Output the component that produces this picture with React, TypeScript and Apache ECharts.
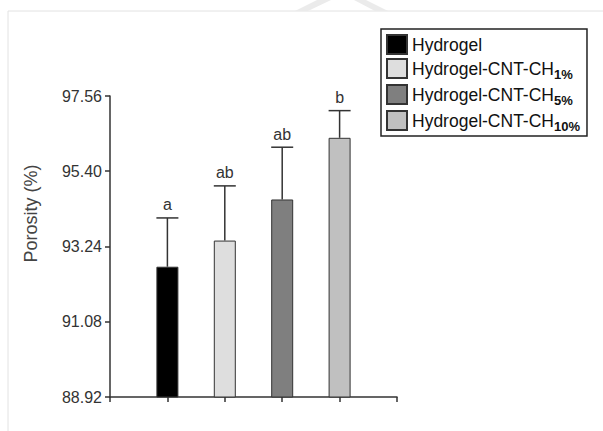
import React, { useEffect, useRef } from 'react';
import * as echarts from 'echarts';

const groupNames = ['Hydrogel', 'Hydrogel-CNT-CH', 'Hydrogel-CNT-CH', 'Hydrogel-CNT-CH'];
const subscripts = ['', '1%', '5%', '10%'];
const porosity = [92.66, 93.41, 94.59, 96.36];
const errorUpper = [1.4, 1.57, 1.5, 0.78];
const letters = ['a', 'ab', 'ab', 'b'];
const barColors = ['#000000', '#dedede', '#7f7f7f', '#c0c0c0'];
const yTicks = [88.92, 91.08, 93.24, 95.4, 97.56];
const xSlots = ['', '', '', '', '', ''];

const FONT = '"Liberation Sans", Arial, sans-serif';

export default function App() {
  const ref = useRef<HTMLDivElement>(null);
  useEffect(() => {
    if (!ref.current) return;
    const chart = echarts.init(ref.current, undefined, { renderer: 'svg' });
    const seriesNames = groupNames.map((g, i) => g + subscripts[i]);
    const barSeries = porosity.map((v, i) => ({
      type: 'bar',
      name: seriesNames[i],
      barWidth: 22,
      barGap: '-100%',
      clip: true,
      data: xSlots.map((_, k) => (k === i + 1 ? v : '-')),
      itemStyle: { color: barColors[i], borderColor: '#333', borderWidth: 1 },
    }));
    const option: any = {
      animation: false,
      backgroundColor: '#fff',
      textStyle: { fontFamily: FONT },
      graphic: [
        {
          type: 'rect',
          shape: { x: 8, y: 11, width: 800, height: 600 },
          style: { fill: 'none', stroke: '#e2e2e2', lineWidth: 1 },
          silent: true,
        },
        {
          type: 'polygon',
          shape: { points: [[295, 11], [308, 11], [331, 0], [317, 0]] },
          style: { fill: '#ebebeb' },
          silent: true,
        },
        {
          type: 'polygon',
          shape: { points: [[354, 0], [366, 0], [388, 11], [375, 11]] },
          style: { fill: '#ebebeb' },
          silent: true,
        },
      ],
      grid: { left: 110, right: 206, top: 96, bottom: 34 },
      legend: {
        orient: 'vertical',
        left: 381,
        top: 29,
        icon: 'rect',
        itemWidth: 20,
        itemHeight: 19,
        itemGap: 3,
        padding: [5, 7, 3, 5],
        borderColor: '#222',
        borderWidth: 1.5,
        backgroundColor: '#fff',
        data: seriesNames,
        formatter: (name: string) => {
          const i = seriesNames.indexOf(name);
          return subscripts[i] ? groupNames[i] + '{sub|' + subscripts[i] + '}' : groupNames[i];
        },
        textStyle: {
          fontSize: 17.5,
          fontFamily: FONT,
          color: '#111',
          lineHeight: 19,
          rich: {
            sub: {
              fontSize: 13,
              fontWeight: 'bold',
              fontFamily: FONT,
              color: '#111',
              lineHeight: 10,
              padding: [9, 0, 0, 0],
              verticalAlign: 'top',
            },
          },
        },
      },
      xAxis: {
        type: 'category',
        data: xSlots,
        boundaryGap: false,
        axisLine: { lineStyle: { color: '#333', width: 1.5 } },
        axisTick: { show: true, length: 5, interval: 0, lineStyle: { color: '#333', width: 1.5 } },
        axisLabel: { show: false },
        splitLine: { show: false },
      },
      yAxis: {
        type: 'value',
        min: yTicks[0],
        max: yTicks[yTicks.length - 1],
        name: 'Porosity (%)',
        nameLocation: 'middle',
        nameGap: 70,
        nameTextStyle: { fontSize: 18, color: '#444', fontFamily: FONT, padding: [0, 0, 0, 66] },
        axisLine: { show: true, lineStyle: { color: '#333', width: 1.5 } },
        axisTick: { show: true, length: 5, customValues: yTicks, lineStyle: { color: '#333', width: 1.5 } },
        axisLabel: {
          customValues: yTicks,
          formatter: (v: number) => v.toFixed(2),
          fontSize: 16,
          color: '#333',
          margin: 8,
          fontFamily: FONT,
        },
        splitLine: { show: false },
      },
      series: [
        ...barSeries,
        {
          type: 'custom',
          z: 5,
          data: porosity.map((v, i) => [i + 1, v, v + errorUpper[i]]),
          renderItem: (params: any, api: any) => {
            const base = api.coord([api.value(0), api.value(1)]);
            const top = api.coord([api.value(0), api.value(2)]);
            const half = 11;
            const st = { stroke: '#333', lineWidth: 1.5 };
            return {
              type: 'group',
              children: [
                { type: 'line', shape: { x1: base[0], y1: base[1], x2: base[0], y2: top[1] }, style: st },
                { type: 'line', shape: { x1: base[0] - half, y1: top[1], x2: base[0] + half, y2: top[1] }, style: st },
                {
                  type: 'text',
                  x: base[0],
                  y: top[1] - 5,
                  style: {
                    text: letters[params.dataIndex],
                    align: 'center',
                    verticalAlign: 'bottom',
                    fontSize: 16,
                    fontFamily: FONT,
                    fill: '#333',
                  },
                },
              ],
            };
          },
        },
      ],
    };
    chart.setOption(option);
    return () => chart.dispose();
  }, []);
  return <div ref={ref} style={{ position: 'fixed', left: 0, top: 0, width: 603, height: 431 }} />;
}
